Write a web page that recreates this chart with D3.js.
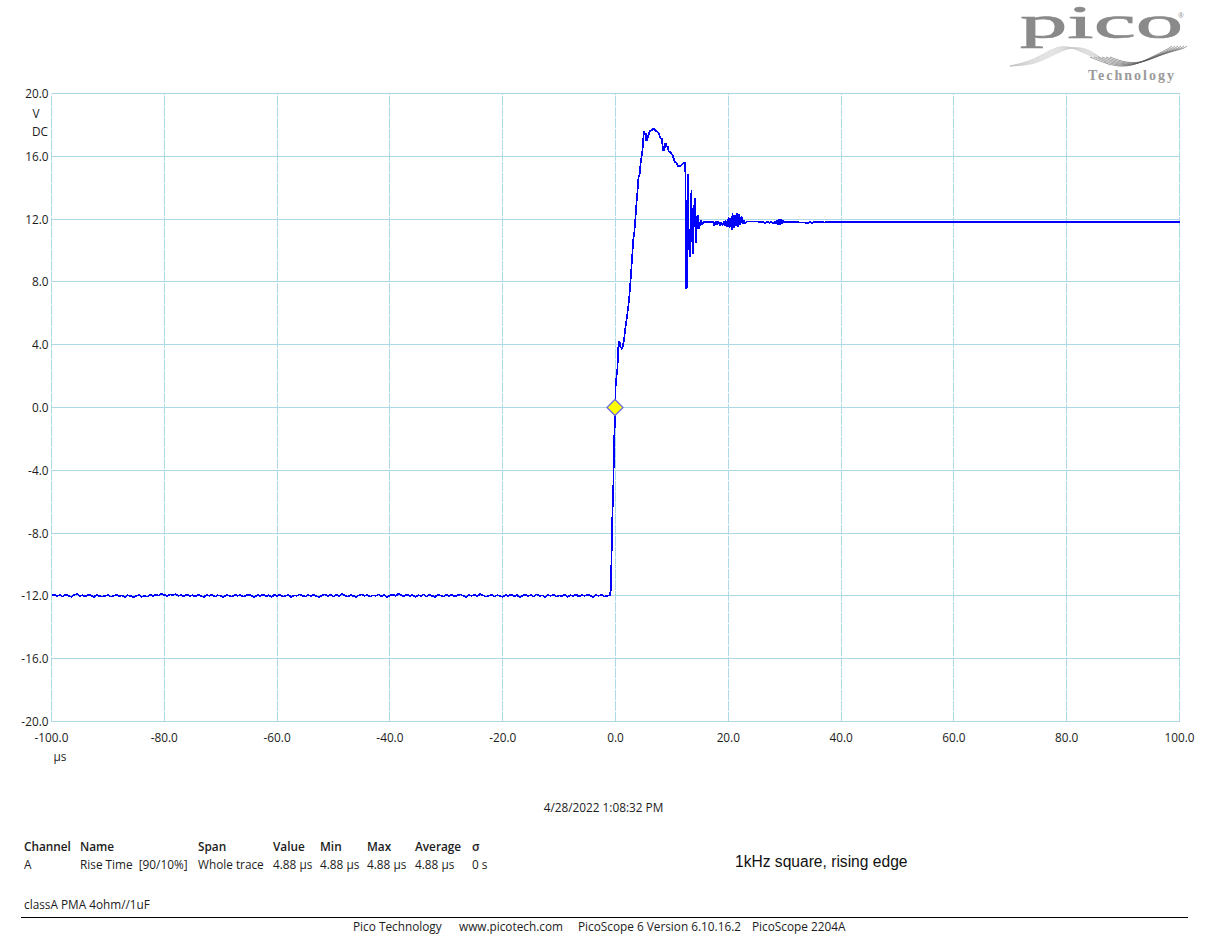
<!DOCTYPE html>
<html><head><meta charset="utf-8">
<script src="https://cdn.jsdelivr.net/npm/d3@7/dist/d3.min.js"></script>
<style>html,body{margin:0;padding:0;background:#fff;overflow:hidden}svg{display:block}
text{font-family:"Open Sans","Noto Sans",sans-serif}</style></head><body>
<svg id="c" width="1209" height="934"></svg>
<script>
const xTickValues=[-100,-80,-60,-40,-20,0,20,40,60,80,100];
const yTickValues=[20,16,12,8,4,0,-4,-8,-12,-16,-20];
// pre-edge baseline, one reading every 0.5 us from -100 us
const baselineVolts=[-11.97,-11.93,-12.0,-11.94,-12.05,-11.9,-11.98,-12.06,-11.94,-11.88,-12.0,-11.95,-12.05,-11.92,-11.97,-12.07,-11.95,-12.0,-12.05,-12.0,
-11.95,-12.05,-12.0,-11.93,-12.03,-11.96,-12.07,-11.96,-12.0,-12.08,-12.0,-11.94,-12.06,-12.0,-12.05,-11.94,-12.0,-11.91,-11.98,-11.87,
-11.94,-12.0,-11.9,-11.96,-11.88,-12.0,-11.94,-12.03,-11.92,-12.0,-11.96,-12.05,-11.92,-12.0,-12.07,-11.94,-12.0,-11.92,-12.05,-11.96,
-12.0,-12.07,-11.94,-11.98,-12.05,-11.92,-12.0,-11.94,-12.05,-11.96,-11.92,-12.0,-12.07,-11.94,-12.0,-11.9,-12.03,-11.96,-12.07,-11.94,
-12.0,-11.92,-12.05,-12.0,-11.94,-12.07,-11.96,-12.0,-11.9,-11.98,-12.05,-11.94,-12.0,-11.92,-12.03,-12.07,-11.96,-11.9,-12.0,-11.94,
-12.05,-11.94,-12.0,-11.88,-11.96,-12.05,-11.94,-12.0,-12.07,-11.96,-11.9,-12.0,-11.94,-12.05,-11.96,-12.0,-11.9,-12.03,-11.94,-12.07,
-11.98,-11.92,-12.0,-11.87,-11.96,-12.03,-11.92,-12.0,-11.94,-12.07,-11.96,-12.0,-11.9,-12.05,-11.94,-12.0,-12.07,-11.92,-11.98,-12.05,
-11.94,-12.0,-11.92,-12.05,-11.96,-11.9,-12.0,-12.07,-11.94,-12.0,-11.92,-12.03,-11.88,-11.96,-12.05,-12.0,-11.92,-12.05,-11.96,-12.0,
-12.07,-11.94,-12.0,-11.9,-12.03,-11.94,-12.07,-11.98,-11.92,-12.0,-11.94,-12.05,-11.9,-12.0,-11.96,-12.07,-11.94,-12.0,-11.92,-12.05,
-11.96,-12.03,-11.92,-12.07,-11.96,-12.0,-11.9,-12.05,-11.94,-12.0,-11.92,-11.98,-12.07,-11.94,-12.0,-11.92,-12.05,-12.0];
// edge, overshoot and ringing
const traceTimes=[-1.02,-0.84,-0.72,-0.55,-0.37,-0.25,-0.07,0.04,0.34,0.52,0.69,0.87,1.17,1.46,1.82,2.11,2.3,2.47,2.65,2.82,3.0,3.18,3.35,3.53,3.71,3.89,4.06,4.3,4.48,4.71,4.89,5.0,5.19,5.36,5.48,5.66,5.84,6.07,6.43,6.78,7.14,7.49,7.73,7.96,8.2,8.32,8.49,8.67,8.85,9.03,9.26,9.44,9.8,10.15,10.5,10.86,11.04,11.57,11.87,12.28,12.4,12.51,12.63,12.75,12.87,12.99,13.16,13.28,13.46,13.58,13.76,13.93,14.11,14.29,14.47,14.64,14.82,15.0,15.2,15.4,15.6,17.3,
17.5,17.75,18.0,18.2,18.5,18.75,19.0,19.2,19.45,19.65,19.85,20.05,20.2,20.4,20.6,20.75,20.95,21.15,21.35,21.55,21.75,21.95,22.15,22.35,22.55,22.75,23.0,23.3,26.2,26.5,26.9,27.3,27.6,27.9,28.2,28.4,28.6,28.8,29.0,29.2,29.4,29.6,29.8,30.0,30.3,30.7,34.2,34.5,34.9,35.3,36.8,37.0,37.3,100];
const traceVolts=[-11.96,-11.65,-9.84,-6.86,-4.85,-2.19,-0.6,1.53,2.48,3.97,4.25,3.86,3.72,4.18,5.24,5.99,6.5,7.16,8.0,8.86,9.85,10.77,11.2,12.05,12.96,13.74,14.6,14.91,15.65,16.19,16.72,17.63,17.35,17.46,16.97,17.08,17.35,17.6,17.67,17.76,17.63,17.53,17.42,17.17,17.12,16.78,16.35,16.44,16.86,16.65,16.61,16.31,16.25,16.04,15.65,15.55,15.38,15.38,15.5,15.62,14.91,7.54,13.2,7.58,14.9,10.77,9.6,10.87,13.85,10.8,9.81,12.68,13.32,10.45,12.15,12.25,11.4,11.73,11.95,11.66,11.83,11.83,
11.56,11.87,11.62,11.85,11.6,11.77,11.6,11.85,11.55,11.9,11.5,12.15,11.42,12.05,11.28,12.4,11.43,12.25,11.55,12.38,11.47,12.3,11.6,12.2,11.72,11.95,11.72,11.85,11.83,11.76,11.83,11.76,11.85,11.72,11.83,11.68,11.95,11.65,12.0,11.62,12.0,11.7,11.9,11.78,11.83,11.83,11.76,11.83,11.74,11.83,11.83,11.77,11.83,11.83];

const W=1209,H=934,L=51.5,R=1179.5,T=93.5,B=721.5;
const gridColor="#add8e6",ink="#1c1c1c";
const svg=d3.select("#c");
const x=d3.scaleLinear().domain([-100,100]).range([L,R]);
const y=d3.scaleLinear().domain([-20,20]).range([B,T]);
const tickFmt=d=>d3.format(".1f")(d).replace("\u2212","-");

const gx=svg.append("g").attr("transform",`translate(0,${B})`)
  .call(d3.axisBottom(x).offset(0).tickValues(xTickValues).tickSize(-(B-T)).tickFormat(tickFmt));
gx.select(".domain").remove();
gx.selectAll("line").attr("stroke",gridColor).attr("stroke-width",1).attr("stroke-dasharray","10,1").attr("shape-rendering","crispEdges");
gx.selectAll("text").attr("fill",ink).attr("font-size",11.8).attr("y",12).attr("dy","0.71em");

const gy=svg.append("g").attr("transform",`translate(${L},0)`)
  .call(d3.axisLeft(y).offset(0).tickValues(yTickValues).tickSize(-(R-L)).tickPadding(3).tickFormat(tickFmt));
gy.select(".domain").remove();
gy.selectAll("line").attr("stroke",gridColor).attr("stroke-width",1).attr("shape-rendering","crispEdges");
gy.selectAll("text").attr("fill",ink).attr("font-size",11.8).attr("y",0.7);

const label=(t,px,py,o={})=>svg.append("text").text(t).attr("x",px).attr("y",py)
  .attr("fill",o.fill||ink).attr("font-size",o.size||11.8).attr("font-weight",o.weight||null)
  .attr("text-anchor",o.anchor||"start").style("font-family",o.font||null);
label("V",36,118,{anchor:"middle"});
label("DC",40,136,{anchor:"middle"});
label("µs",60,761,{anchor:"middle"});

// trace
const baseTimes=baselineVolts.map((_,i)=>-100+i*0.5);
const pts=baseTimes.map((t,i)=>[t,baselineVolts[i]]).concat(traceTimes.map((t,i)=>[t,traceVolts[i]]));
svg.append("path").datum(pts).attr("fill","none").attr("stroke","#0000ff").attr("stroke-width",1.7)
  .attr("shape-rendering","crispEdges").attr("stroke-linejoin","bevel").attr("d",d3.line().x(d=>x(d[0])).y(d=>y(d[1])));

// trigger marker
const mx=x(0),my=y(0);
svg.append("path").attr("d",`M${mx-0.5},${my-8}L${mx+7.5},${my}L${mx-0.5},${my+8}L${mx-8.5},${my}Z`)
  .attr("fill","#ffff00").attr("stroke","#6c6ce0").attr("stroke-width",1.3);

// measurement table
const colX=[24,80,198,273,320,367,415,472];
const headers=["Channel","Name","Span","Value","Min","Max","Average","σ"];
const row=["A","Rise Time  [90/10%]","Whole trace","4.88 µs","4.88 µs","4.88 µs","4.88 µs","0 s"];
headers.forEach((h,i)=>label(h,colX[i],851,{weight:600}));
row.forEach((h,i)=>label(h,colX[i],869).style("white-space","pre"));
label("1kHz square, rising edge",735,867,{size:15.6,font:"'Liberation Sans',Arial,sans-serif",fill:"#111"});
label("4/28/2022 1:08:32 PM",603.5,812,{anchor:"middle"});
label("classA PMA 4ohm//1uF",24,909);
svg.append("line").attr("x1",21).attr("x2",1188).attr("y1",917.5).attr("y2",917.5).attr("stroke","#000");
[["Pico Technology",353],["www.picotech.com",459],["PicoScope 6 Version 6.10.16.2",578],["PicoScope 2204A",752]]
  .forEach(d=>label(d[0],d[1],931));

// logo
const logo=svg.append("g");
const wave=d3.line().curve(d3.curveBasis);
[0,1,2,3,4,5].forEach(k=>{
  logo.append("path").attr("fill","none").attr("stroke","#c4c4c4").attr("stroke-width",0.6)
    .attr("d",wave([[1010,66],[1035,65-k],[1058,52-k*1.5],[1075,46+k*0.4],[1092,50+k*1.5],[1110,66-k]]));
  logo.append("path").attr("fill","none").attr("stroke","#555").attr("stroke-width",0.6)
    .attr("d",wave([[1090+k*4,57],[1112+k*3,66-k*.5],[1130+k*3,67-k],[1150+k*3,58-k],[1168+k*3,49],[1172+k*3,46]]));
});
label("pico",1020,38,{size:47,font:"'Liberation Serif',serif",fill:"#8a8a8a"}).attr("textLength",163).attr("lengthAdjust","spacingAndGlyphs").attr("stroke","#8a8a8a").attr("stroke-width",0.7);
label("®",1178,18,{size:7,fill:"#999"});
label("Technology",1088,80,{size:14,font:"'Liberation Serif',serif",fill:"#9a9a9a",weight:"bold"}).attr("textLength",86);
</script></body></html>
